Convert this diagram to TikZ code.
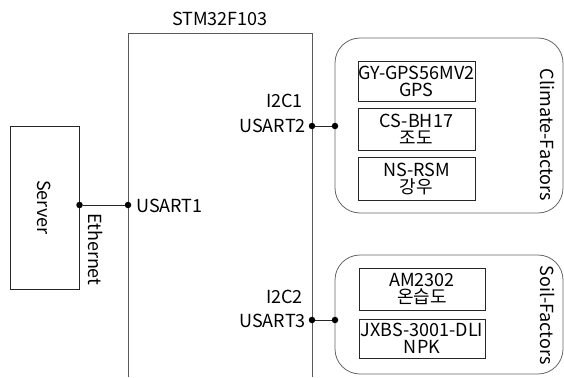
\documentclass[tikz,border=0pt]{standalone}
\usepackage{fontspec}
\setmainfont{Noto Sans CJK KR}
\begin{document}
\begin{tikzpicture}[x=1pt,y=-1pt,
  every node/.style={font=\fontsize{18}{17}\selectfont, inner sep=0pt},
  dev/.style={draw=black!85, line width=0.8pt, minimum height=#1, align=center},
  grp/.style={draw=black!60, line width=0.8pt, rounded corners=25pt},
  dot/.style={circle, fill=black, minimum size=6.5pt, inner sep=0pt},
  wire/.style={line width=0.8pt, black!85}]
\useasboundingbox (0,0) rectangle (564,377);
% STM32 board
\draw[draw=black!65, line width=0.8pt] (128,377) -- (128,33) -- (312,33) -- (312,377);
\node (stm) at (220,19) {STM32F103};
% Server
\node[dev=163pt, minimum width=69pt] (server) at (44.5,207.5) {};
\node[rotate=-90] (servert) at (server.center) {Server};
\node[dot] (d1) at (79.5,205) {};
\node[dot] (d2) at (128,205) {};
\draw[wire] (d1) -- (d2);
\node[rotate=-90, anchor=west] (eth) at (96,213) {Ethernet};
\node[anchor=west] (u1) at (136,206) {USART1};
% Climate group
\draw[grp] (335,38) rectangle (563,213);
\node[rotate=-90] (clim) at (548,135) {Climate-Factors};
\node[dev=40pt, minimum width=117pt] (gy) at (416.5,81) {GY-GPS56MV2\\GPS};
\node[dev=42pt, minimum width=117pt] (cs) at (416.5,129) {CS-BH17\\조도};
\node[dev=43pt, minimum width=117pt] (ns) at (416.5,179) {NS-RSM\\강우};
\node[dot] (d3) at (312,126) {};
\node[dot] (d4) at (335,126) {};
\draw[wire] (d3) -- (d4);
\node[anchor=east] (i1) at (303,101) {I2C1};
\node[anchor=east] (u2) at (306,126) {USART2};
% Soil group
\draw[grp] (335,255) rectangle (563,374);
\node[rotate=-90] (soil) at (548,315) {Soil-Factors};
\node[dev=42pt, minimum width=126pt] (am) at (422,289) {AM2302\\온습도};
\node[dev=39pt, minimum width=126pt] (jx) at (422,338.5) {JXBS-3001-DLI\\NPK};
\node[dot] (d5) at (312,320) {};
\node[dot] (d6) at (335,320) {};
\draw[wire] (d5) -- (d6);
\node[anchor=east] (i2) at (303,297) {I2C2};
\node[anchor=east] (u3) at (306,321) {USART3};
\end{tikzpicture}
\end{document}
